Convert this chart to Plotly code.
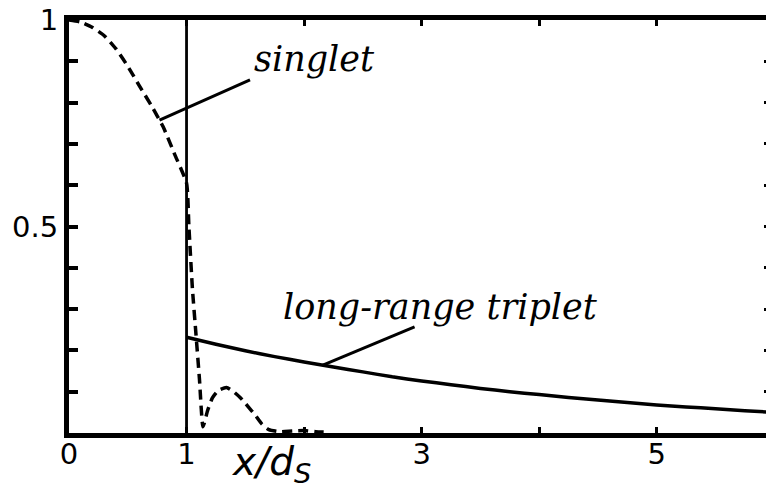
import numpy as np
import plotly.graph_objects as go

# Singlet pair amplitude (dashed): inside S (x < d_S) and its decay into F
singlet_x = [0.0, 0.1, 0.2, 0.3, 0.4, 0.5, 0.6, 0.7, 0.8, 0.9, 1.0,
             1.02, 1.05, 1.08, 1.11, 1.14, 1.18, 1.22, 1.27, 1.34, 1.40,
             1.46, 1.52, 1.58, 1.64, 1.70, 1.80, 1.90, 2.00, 2.10, 2.20]
singlet_y = [1.0, 0.995, 0.982, 0.962, 0.930, 0.888, 0.840, 0.793, 0.742, 0.674, 0.605,
             0.500, 0.350, 0.240, 0.130, 0.015, 0.055, 0.085, 0.103, 0.110, 0.100,
             0.085, 0.065, 0.045, 0.022, 0.008, 0.003, 0.005, 0.006, 0.003, 0.002]

# Long-range triplet amplitude (solid), starting at the interface x = d_S
triplet_x = [1.0, 1.25, 1.5, 1.75, 2.0, 2.25, 2.5, 2.75, 3.0, 3.25, 3.5,
             3.75, 4.0, 4.25, 4.5, 4.75, 5.0, 5.25, 5.5, 5.75, 6.0]
triplet_y = [0.232, 0.215, 0.199, 0.185, 0.172, 0.160, 0.148, 0.136, 0.126, 0.117, 0.108,
             0.100, 0.093, 0.086, 0.080, 0.074, 0.068, 0.063, 0.059, 0.054, 0.050]

x_ticks = [0, 1, 2, 3, 4, 5]
x_ticktext = ["0", "1", "", "3", "", "5"]
y_ticks = [round(0.1 * k, 1) for k in range(11)]
y_ticktext = ["" if v not in (0.5, 1.0) else ("0.5" if v == 0.5 else "1") for v in y_ticks]

interface_x = 1.0

fig = go.Figure()

fig.add_trace(go.Scatter(
    x=singlet_x, y=singlet_y, mode="lines",
    line=dict(color="black", width=3.5, dash="10px,6px", shape="spline", smoothing=0.5),
    name="singlet", showlegend=False,
))
fig.add_trace(go.Scatter(
    x=triplet_x, y=triplet_y, mode="lines",
    line=dict(color="black", width=3.5, shape="spline", smoothing=0.6),
    name="long-range triplet", showlegend=False,
))
# invisible trace to carry the right-hand tick stubs
fig.add_trace(go.Scatter(x=[0], y=[0], yaxis="y2", mode="lines",
                         line=dict(width=0), showlegend=False, hoverinfo="skip"))

# S/F interface
fig.add_shape(type="line", xref="x", yref="y", x0=interface_x, x1=interface_x,
              y0=0, y1=1, line=dict(color="black", width=2.8))

# leader lines from the labels to the curves
s_head = 0.77
t_head = 2.16
fig.add_shape(type="line", xref="x", yref="y",
              x0=s_head, y0=float(np.interp(s_head, singlet_x, singlet_y)),
              x1=1.54, y1=0.855, line=dict(color="black", width=3))
fig.add_shape(type="line", xref="x", yref="y",
              x0=t_head, y0=float(np.interp(t_head, triplet_x, triplet_y)),
              x1=2.94, y1=0.257, line=dict(color="black", width=3))

label_font = dict(family="DejaVu Serif", size=35, color="black")
fig.add_annotation(x=1.56, y=0.905, xref="x", yref="y", text="<i>singlet</i>",
                   showarrow=False, xanchor="left", yanchor="middle", font=label_font)
fig.add_annotation(x=3.16, y=0.305, xref="x", yref="y", text="<i>long-range triplet</i>",
                   showarrow=False, xanchor="center", yanchor="middle", font=label_font)

# axis title x/d_S
fig.add_annotation(x=1.72, y=0, xref="x", yref="paper", yshift=-31,
                   text="<i>x/d</i><sub><i>S</i></sub>", showarrow=False,
                   xanchor="center", yanchor="middle",
                   font=dict(family="DejaVu Sans", size=39, color="black"))

tick_font = dict(family="DejaVu Sans", size=29, color="black")

fig.update_layout(
    width=766, height=491,
    margin=dict(l=69, r=0, t=20, b=58),
    paper_bgcolor="white", plot_bgcolor="white",
    xaxis=dict(range=[0, 5.93], showline=True, linewidth=5, linecolor="black",
               mirror="ticks", ticks="inside", ticklen=6, tickwidth=3, tickcolor="black",
               tickvals=x_ticks, ticktext=x_ticktext, tickfont=tick_font,
               ticklabelstandoff=-9,
               showgrid=False, zeroline=False),
    yaxis=dict(range=[0, 1], showline=True, linewidth=5, linecolor="black",
               ticks="inside", ticklen=9, tickwidth=4, tickcolor="black",
               tickvals=y_ticks, ticktext=y_ticktext, tickfont=tick_font,
               showgrid=False, zeroline=False),
    yaxis2=dict(range=[0, 1], overlaying="y", side="right", anchor="x",
                showline=False, ticks="inside", ticklen=2, tickwidth=3, tickcolor="black",
                tickvals=y_ticks, showticklabels=False, showgrid=False, zeroline=False),
)

fig.write_html("out.html")
